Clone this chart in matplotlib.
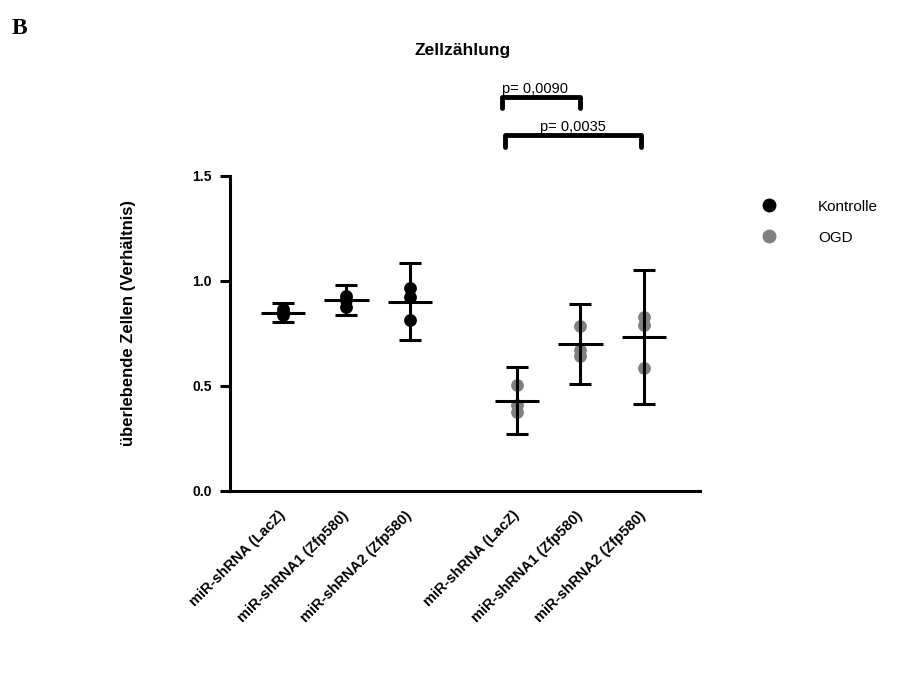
import numpy as np
import matplotlib
matplotlib.use('Agg')
import matplotlib.pyplot as plt
from matplotlib.lines import Line2D

plt.rcParams['font.family'] = ['Liberation Sans', 'DejaVu Sans']

# Daten
labels = ['miR-shRNA (LacZ)', 'miR-shRNA1 (Zfp580)', 'miR-shRNA2 (Zfp580)',
          'miR-shRNA (LacZ)', 'miR-shRNA1 (Zfp580)', 'miR-shRNA2 (Zfp580)']
groups = ['Kontrolle', 'Kontrolle', 'Kontrolle', 'OGD', 'OGD', 'OGD']
points = [[0.835, 0.85, 0.865],
          [0.93, 0.91, 0.875],
          [0.965, 0.925, 0.814],
          [0.505, 0.41, 0.378],
          [0.786, 0.671, 0.640],
          [0.827, 0.790, 0.587]]
means = [0.849, 0.909, 0.898, 0.430, 0.699, 0.732]
err_low = [0.806, 0.838, 0.716, 0.271, 0.510, 0.413]
err_high = [0.894, 0.981, 1.084, 0.592, 0.889, 1.052]
p_texts = ['p= 0,0090', 'p= 0,0035']

colors = {'Kontrolle': 'black', 'OGD': '#808080'}
pos = np.array([0, 1, 2, 3.68, 4.68, 5.68])

fig = plt.figure(figsize=(9.15, 6.91), dpi=100)
ax = fig.add_axes([230 / 915, 1 - 491 / 691, (700 - 230) / 915, (491 - 175.7) / 691])

for i in range(len(labels)):
    c = colors[groups[i]]
    ax.scatter([pos[i]] * len(points[i]), points[i], s=85, color=c, zorder=3, linewidths=0)
    ax.errorbar(pos[i], means[i],
                yerr=[[means[i] - err_low[i]], [err_high[i] - means[i]]],
                fmt='none', ecolor='black', elinewidth=2.2, capsize=8, capthick=2.2, zorder=4)
    ax.hlines(means[i], pos[i] - 0.35, pos[i] + 0.35, color='black', lw=2.2, zorder=4)

ax.set_xlim(-0.83, 6.56)
ax.set_ylim(0, 1.5)
ax.set_yticks([0, 0.5, 1.0, 1.5])
ax.set_yticklabels(['0.0', '0.5', '1.0', '1.5'], fontweight='bold', fontsize=10)
ax.set_xticks(pos)
ax.set_xticklabels(labels, rotation=45, ha='right', va='center', rotation_mode='anchor',
                   fontweight='bold', fontsize=10.5)
ax.tick_params(axis='x', length=0, pad=16)
ax.tick_params(axis='y', length=7, width=2.2, pad=6)
for s in ['top', 'right']:
    ax.spines[s].set_visible(False)
for s in ['left', 'bottom']:
    ax.spines[s].set_linewidth(2.2)

# Signifikanz-Klammern
brackets = [(pos[3] - 0.24, pos[4], 1.875, 1.822),
            (pos[3] - 0.19, pos[5] - 0.04, 1.695, 1.638)]
for (x0, x1, ytop, ybot), txt in zip(brackets, p_texts):
    ax.plot([x0, x0, x1, x1], [ybot, ytop, ytop, ybot], color='black', lw=3.5,
            clip_on=False, solid_capstyle='round')
ax.text((brackets[0][0] + brackets[0][1]) / 2 - 0.1, 1.88, p_texts[0], ha='center', va='bottom', fontsize=10.5)
ax.text((brackets[1][0] + brackets[1][1]) / 2, 1.70, p_texts[1], ha='center', va='bottom', fontsize=10.5)

# Legende
handles = [Line2D([], [], marker='o', ls='none', color=colors[g], markersize=9) for g in ['Kontrolle', 'OGD']]
ax.legend(handles, ['Kontrolle', 'OGD'], loc='upper left', bbox_to_anchor=(740 / 915, 1 - 186 / 691),
          bbox_transform=fig.transFigure, frameon=False, handletextpad=2.2, labelspacing=1.1,
          fontsize=11)

fig.text(463 / 915, 1 - 50 / 691, 'Zellzählung', ha='center', va='center', fontweight='bold', fontsize=12.5)
fig.text(128 / 915, 1 - 323 / 691, 'überlebende Zellen (Verhältnis)', rotation=90,
         ha='center', va='center', fontweight='bold', fontsize=12)
fig.text(12 / 915, 1 - 28 / 691, 'B', family='Liberation Serif', fontweight='bold', fontsize=17,
         ha='left', va='center')

fig.savefig('out.png', dpi=100)
